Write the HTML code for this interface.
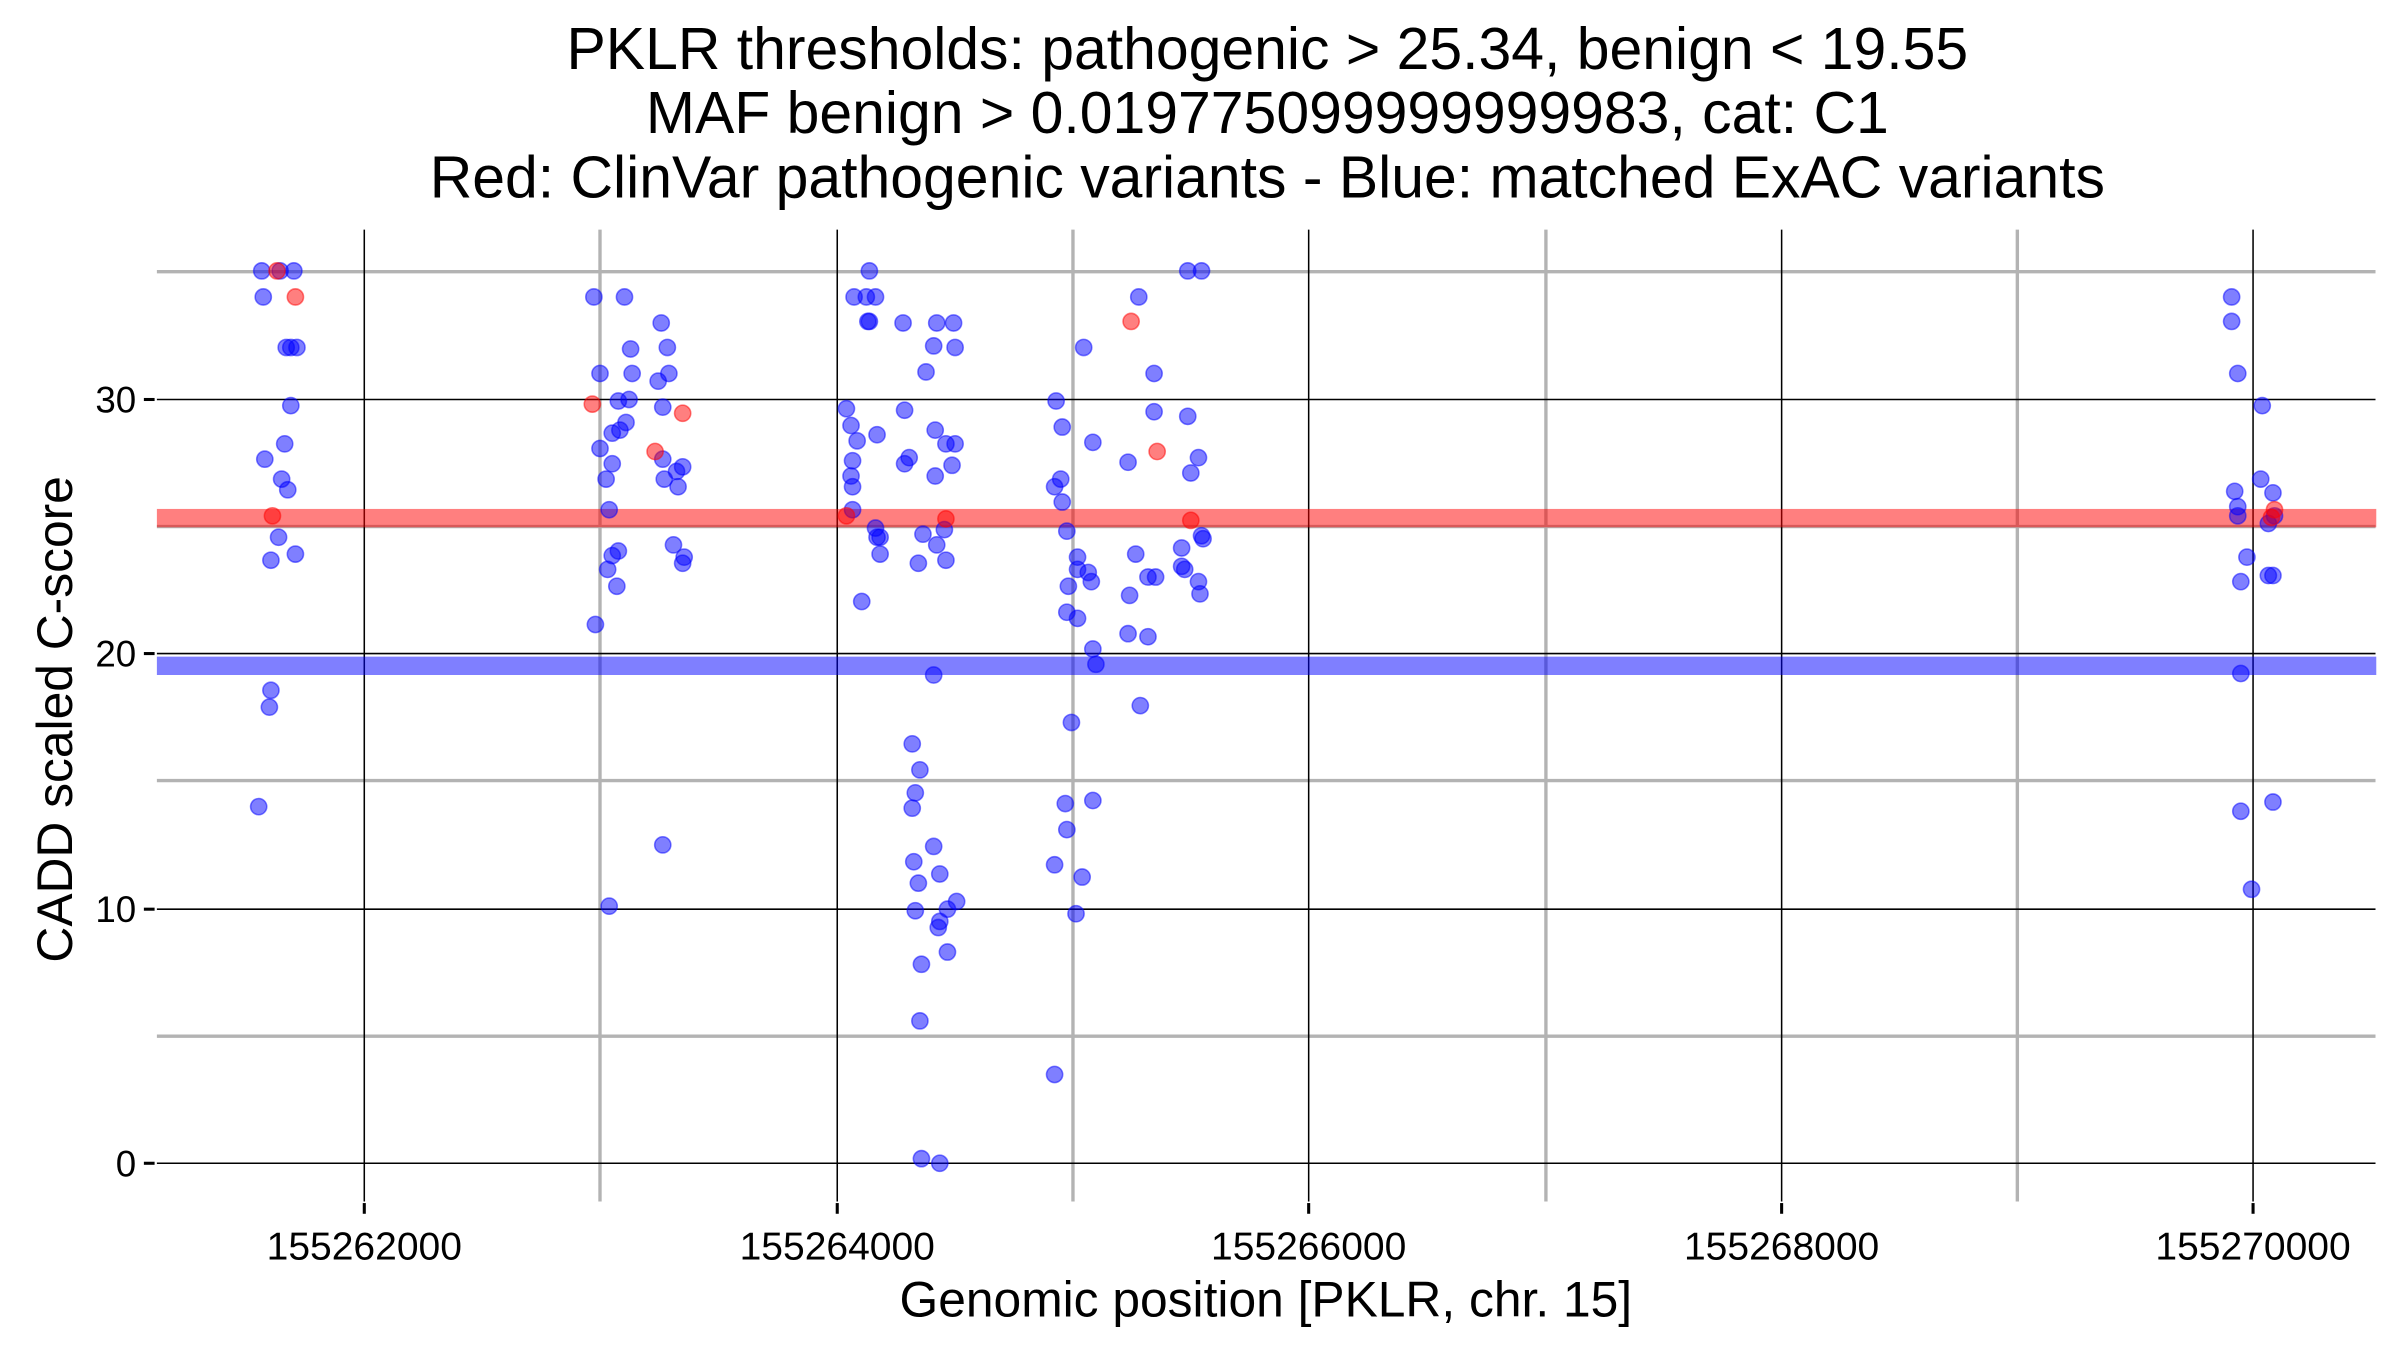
<!DOCTYPE html>
<html><head><meta charset="utf-8"><style>html,body{margin:0;padding:0;background:#fff}svg{display:block}</style></head><body>
<svg width="2400" height="1350" viewBox="0 0 1568 882" xmlns="http://www.w3.org/2000/svg" font-family="Liberation Sans, sans-serif">
<rect width="1568" height="882" fill="#fff"/>
<g stroke="#b3b3b3" stroke-width="2.2">
<line x1="102.5" x2="1552" y1="177.5" y2="177.5"/><line x1="102.5" x2="1552" y1="344" y2="344"/><line x1="102.5" x2="1552" y1="510" y2="510"/><line x1="102.5" x2="1552" y1="677" y2="677"/>
<line x1="392" x2="392" y1="150" y2="785"/><line x1="701" x2="701" y1="150" y2="785"/><line x1="1010" x2="1010" y1="150" y2="785"/><line x1="1318" x2="1318" y1="150" y2="785"/>
</g>
<g stroke="#000" stroke-width="1">
<line x1="102.5" x2="1552" y1="261" y2="261"/><line x1="102.5" x2="1552" y1="427" y2="427"/><line x1="102.5" x2="1552" y1="594" y2="594"/><line x1="102.5" x2="1552" y1="760" y2="760"/>
<line x1="238" x2="238" y1="150" y2="785"/><line x1="547" x2="547" y1="150" y2="785"/><line x1="855" x2="855" y1="150" y2="785"/><line x1="1164" x2="1164" y1="150" y2="785"/><line x1="1472" x2="1472" y1="150" y2="785"/>
</g>
<g stroke="#000" stroke-width="2">
<line x1="94" x2="101" y1="261" y2="261"/><line x1="94" x2="101" y1="427" y2="427"/><line x1="94" x2="101" y1="594" y2="594"/><line x1="94" x2="101" y1="760" y2="760"/>
<line x1="238" x2="238" y1="786" y2="793"/><line x1="547" x2="547" y1="786" y2="793"/><line x1="855" x2="855" y1="786" y2="793"/><line x1="1164" x2="1164" y1="786" y2="793"/><line x1="1472" x2="1472" y1="786" y2="793"/>
</g>
<rect x="102.5" y="332.5" width="1450" height="12" fill="#ff0000" fill-opacity="0.5"/>
<rect x="102.5" y="429" width="1450" height="12" fill="#0000ff" fill-opacity="0.5"/>
<g id="pts"></g>
<g font-size="24" fill="#000" text-anchor="end">
<text x="89" y="269.5">30</text><text x="89" y="435.5">20</text><text x="89" y="602.5">10</text><text x="89" y="768.5">0</text>
</g>
<g font-size="25.5" fill="#000" text-anchor="middle">
<text x="238" y="823">155262000</text><text x="547" y="823">155264000</text><text x="855" y="823">155266000</text><text x="1164" y="823">155268000</text><text x="1472" y="823">155270000</text>
</g>
<text x="827" y="860" font-size="32.5" text-anchor="middle">Genomic position [PKLR, chr. 15]</text>
<text transform="translate(47,470) rotate(-90)" font-size="32.5" text-anchor="middle">CADD scaled C-score</text>
<g font-size="38.5" text-anchor="middle">
<text x="828" y="45">PKLR thresholds: pathogenic &gt; 25.34, benign &lt; 19.55</text>
<text x="828" y="87">MAF benign &gt; 0.019775099999999983, cat: C1</text>
<text x="828" y="129">Red: ClinVar pathogenic variants - Blue: matched ExAC variants</text>
</g>
</svg>
<script>
var B=[[171,177],[183,177],[192,177],[172,194],[187,227],[190,227],[194,227],[173,300],[186,290],[190,265],[184,313],[188,320],[182,351],[193,362],[177,366],[177,451],[176,462],[169,527],
[388,194],[408,194],[432,211],[392,244],[412,228],[436,227],[413,244],[437,244],[404,262],[411,261],[430,249],[433,266],[409,276],[400,283],[405,281],[392,293],[400,303],[433,300],[446,305],[442,308],[434,313],[396,313],[443,318],[398,333],[397,372],[404,360],[400,363],[440,356],[447,364],[446,368],[403,383],[389,408],[433,552],[398,592],
[568,177],[558,194],[566,194],[572,194],[567,210],[568,210],[590,211],[612,211],[623,211],[610,226],[624,227],[605,243],[553,267],[591,268],[556,278],[573,284],[560,288],[624,290],[611,281],[594,299],[618,290],[591,303],[557,301],[556,311],[557,318],[611,311],[622,304],[557,333],[572,345],[575,351],[573,351],[617,346],[603,349],[612,356],[575,362],[600,368],[618,366],[563,393],[610,441],[596,486],[601,503],[598,518],[596,528],[610,553],[597,563],[600,577],[614,571],[598,595],[614,602],[619,594],[625,589],[613,606],[602,630],[619,622],[601,667],[602,757],[614,760],
[776,177],[785,177],[744,194],[708,227],[754,244],[690,262],[694,279],[754,269],[776,272],[714,289],[737,302],[783,299],[689,318],[693,313],[694,328],[778,309],[697,347],[704,364],[772,358],[742,362],[785,350],[786,352],[704,372],[711,374],[738,389],[772,370],[774,372],[698,383],[755,377],[750,377],[783,380],[784,388],[713,380],[697,400],[704,404],[737,414],[750,416],[714,424],[716,434],[745,461],[700,472],[696,525],[697,542],[714,523],[689,565],[707,573],[703,597],[689,702],
[1458,194],[1458,210],[1462,244],[1478,265],[1477,313],[1460,321],[1485,322],[1462,331],[1462,337],[1486,337],[1482,342],[1468,364],[1482,376],[1485,376],[1464,380],[1464,440],[1464,530],[1485,524],[1471,581]];
var R=[[181,177],[193,194],[178,337],[387,264],[428,295],[446,270],[553,337],[618,339],[739,210],[756,295],[778,340],[1486,333],[1484,338]];
var s='';B.forEach(function(p){s+='<circle cx="'+p[0]+'" cy="'+p[1]+'" r="5.3" fill="#0000ff" fill-opacity="0.5" stroke="#0000ff" stroke-opacity="0.5" stroke-width="1"/>'});
R.forEach(function(p){s+='<circle cx="'+p[0]+'" cy="'+p[1]+'" r="5.3" fill="#ff0000" fill-opacity="0.5" stroke="#ff0000" stroke-opacity="0.5" stroke-width="1"/>'});
document.getElementById('pts').innerHTML=s;
</script>
</body></html>
